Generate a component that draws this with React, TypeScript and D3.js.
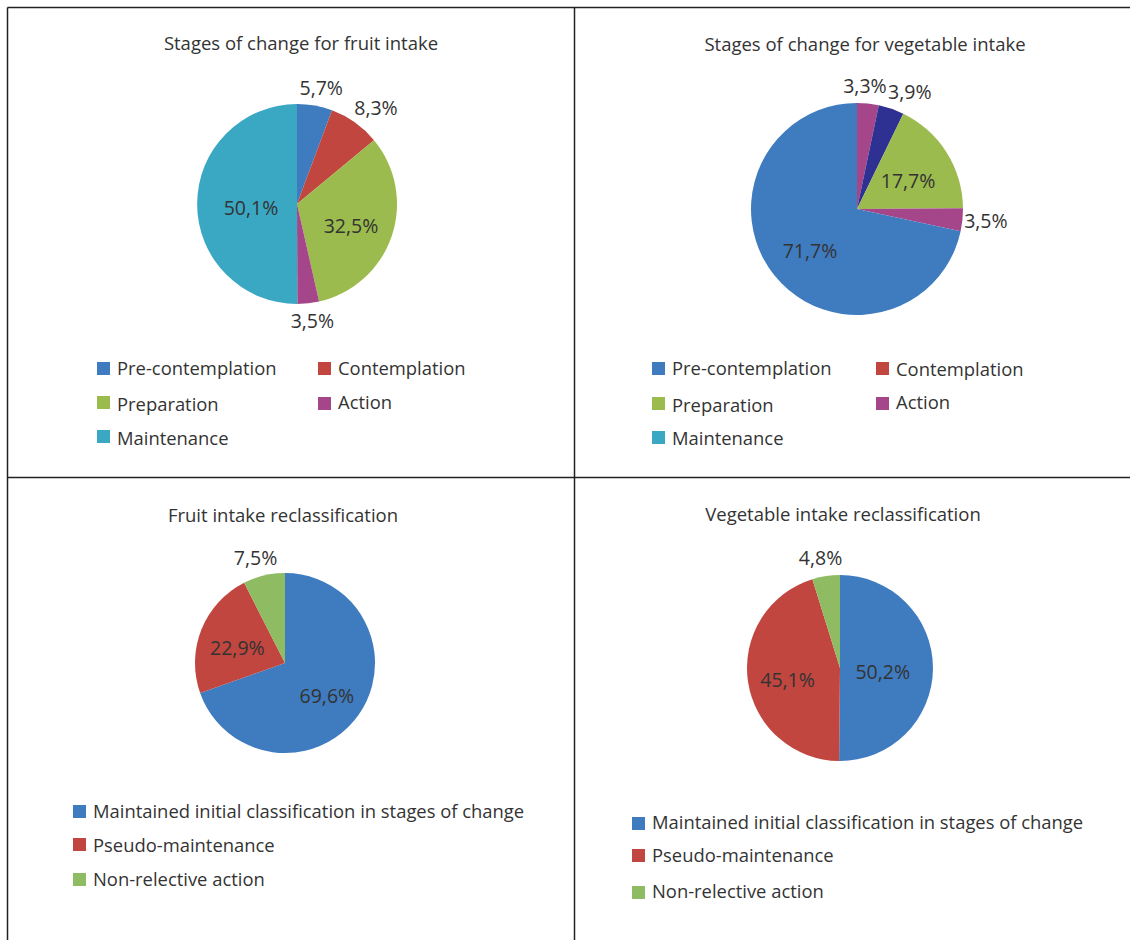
import React from "react";
import * as d3 from "d3";

// ---------- data ----------
const stageLabels = ["Pre-contemplation", "Contemplation", "Preparation", "Action", "Maintenance"];
const fruitStageValues = [5.7, 8.3, 32.5, 3.5, 50.1];
// vegetable pie slices as drawn (clockwise from 12 o'clock)
const vegStageSliceKeys = ["Action", "Unlabelled", "Preparation", "Action", "Pre-contemplation"];
const vegStageSliceValues = [3.3, 3.9, 17.7, 3.5, 71.7];

const reclassLabels = [
  "Maintained initial classification in stages of change",
  "Pseudo-maintenance",
  "Non-relective action",
];
const fruitReclassValues = [69.6, 22.9, 7.5];
const vegReclassValues = [50.2, 45.1, 4.8];

const chartTitles = [
  "Stages of change for fruit intake",
  "Stages of change for vegetable intake",
  "Fruit intake reclassification",
  "Vegetable intake reclassification",
];

// ---------- styles ----------
const stageColors: Record<string, string> = {
  "Pre-contemplation": "#3f7bbf",
  Contemplation: "#c0463f",
  Preparation: "#9bbb4e",
  Action: "#a5468a",
  Maintenance: "#3aa8c3",
  Unlabelled: "#2e3192",
};
const reclassColors: Record<string, string> = {
  "Maintained initial classification in stages of change": "#3f7bbf",
  "Pseudo-maintenance": "#c0463f",
  "Non-relective action": "#8fbb62",
};

const FONT = "'Open Sans', 'Noto Sans', sans-serif";
const TEXT = "#333333";
const fmt = (v: number) => v.toFixed(1).replace(".", ",") + "%";

type Slice = { key: string; value: number };

function Pie({ cx, cy, r, slices, colors, labelSize }: {
  cx: number; cy: number; r: number; slices: Slice[]; colors: Record<string, string>; labelSize: number;
}) {
  const pie = d3.pie<Slice>().sort(null).value((d) => d.value);
  const arcs = pie(slices);
  const arc = d3.arc<d3.PieArcDatum<Slice>>().innerRadius(0).outerRadius(r);
  const halfW = labelSize * 1.1;
  const halfH = labelSize * 0.5;
  const labels = arcs.map((a) => {
    const mid = (a.startAngle + a.endAngle) / 2;
    const dx = Math.sin(mid);
    const dy = -Math.cos(mid);
    if (a.data.value >= 10) {
      const f = a.data.value >= 48 && a.data.value <= 52 ? 0.46 : 0.57;
      return { x: dx * r * f, y: dy * r * f + 4, inside: true };
    }
    const gapX = 2, gapY = 8;
    const kx = Math.max(-1, Math.min(1, dx * 1.6));
    return { x: dx * (r + gapX) + kx * halfW, y: dy * (r + gapY) + dy * halfH, inside: false };
  });
  // simple collision resolution for outside labels
  for (let iter = 0; iter < 5; iter++) {
    for (let i = 0; i < labels.length; i++) {
      for (let j = i + 1; j < labels.length; j++) {
        const A = labels[i], B = labels[j];
        if (A.inside || B.inside) continue;
        const ox = 2 * halfW + 2 - Math.abs(A.x - B.x);
        const oy = 2 * halfH - Math.abs(A.y - B.y);
        if (ox > 0 && oy > 0) {
          const s = A.x <= B.x ? 1 : -1;
          A.x -= (s * ox) / 2;
          B.x += (s * ox) / 2;
        }
      }
    }
  }
  return (
    <g transform={`translate(${cx},${cy})`}>
      {arcs.map((a, i) => (
        <path key={i} d={arc(a) || ""} fill={colors[a.data.key]} />
      ))}
      {arcs.map((a, i) => (
        <text key={"l" + i} x={labels[i].x} y={labels[i].y} dy="0.35em" textAnchor="middle"
          fontFamily={FONT} fontSize={labelSize} fill={TEXT}>
          {fmt(a.data.value)}
        </text>
      ))}
    </g>
  );
}

function Legend({ items, colors, pos, size }: {
  items: string[]; colors: Record<string, string>;
  pos: { x: number; y: number; ty: number }[]; size: number;
}) {
  return (
    <g>
      {items.map((it, i) => (
        <g key={i}>
          <rect x={pos[i].x} y={pos[i].y} width={13} height={13} fill={colors[it]} />
          <text x={pos[i].x + 20} y={pos[i].ty} fontFamily={FONT} fontSize={size} fill={TEXT}>
            {it}
          </text>
        </g>
      ))}
    </g>
  );
}

export default function App() {
  const W = 1130, H = 940;
  const fruitSlices = stageLabels.map((k, i) => ({ key: k, value: fruitStageValues[i] }));
  const vegSlices = vegStageSliceKeys.map((k, i) => ({ key: k, value: vegStageSliceValues[i] }));
  const fruitRe = reclassLabels.map((k, i) => ({ key: k, value: fruitReclassValues[i] }));
  const vegRe = reclassLabels.map((k, i) => ({ key: k, value: vegReclassValues[i] }));

  const topLeftLegend = [
    { x: 97, y: 362, ty: 375 },
    { x: 318, y: 362, ty: 375 },
    { x: 97, y: 396, ty: 411 },
    { x: 318, y: 397, ty: 409 },
    { x: 97, y: 430, ty: 445 },
  ];
  const topRightLegend = [
    { x: 652, y: 362, ty: 375 },
    { x: 876, y: 362, ty: 376 },
    { x: 652, y: 397, ty: 412 },
    { x: 876, y: 397, ty: 409 },
    { x: 652, y: 431, ty: 445 },
  ];
  const botLeftLegend = [
    { x: 73, y: 805, ty: 818 },
    { x: 73, y: 838, ty: 852 },
    { x: 73, y: 873, ty: 886 },
  ];
  const botRightLegend = [
    { x: 632, y: 817, ty: 829 },
    { x: 632, y: 849, ty: 862 },
    { x: 632, y: 886, ty: 898 },
  ];

  const titleSize = 18.5;
  const legendSize = 18.4;
  const labelSize = 19.5;

  return (
    <div style={{ position: "absolute", left: 0, top: 0 }}>
      <svg width={W} height={H} style={{ display: "block", background: "#fff" }}>
        <rect x={0} y={0} width={W} height={H} fill="#fff" />
        {/* table grid */}
        <g stroke="#222" strokeWidth={1.5} fill="none">
          <line x1={7.5} y1={7.5} x2={W} y2={7.5} />
          <line x1={7.5} y1={7.5} x2={7.5} y2={H} />
          <line x1={574.5} y1={7.5} x2={574.5} y2={H} />
          <line x1={7.5} y1={477.5} x2={W} y2={477.5} />
        </g>

        {/* titles */}
        <g fontFamily={FONT} fontSize={titleSize} fill={TEXT} textAnchor="middle">
          <text x={301} y={50}>{chartTitles[0]}</text>
          <text x={865} y={51}>{chartTitles[1]}</text>
          <text x={283} y={522}>{chartTitles[2]}</text>
          <text x={843} y={521}>{chartTitles[3]}</text>
        </g>

        <Pie cx={297} cy={204} r={100} slices={fruitSlices} colors={stageColors} labelSize={labelSize} />
        <Pie cx={857} cy={209} r={106} slices={vegSlices} colors={stageColors} labelSize={labelSize} />
        <Pie cx={285} cy={663} r={90} slices={fruitRe} colors={reclassColors} labelSize={labelSize} />
        <Pie cx={840} cy={668} r={93} slices={vegRe} colors={reclassColors} labelSize={labelSize} />

        <Legend items={stageLabels} colors={stageColors} pos={topLeftLegend} size={legendSize} />
        <Legend items={stageLabels} colors={stageColors} pos={topRightLegend} size={legendSize} />
        <Legend items={reclassLabels} colors={reclassColors} pos={botLeftLegend} size={legendSize} />
        <Legend items={reclassLabels} colors={reclassColors} pos={botRightLegend} size={legendSize} />
      </svg>
    </div>
  );
}
